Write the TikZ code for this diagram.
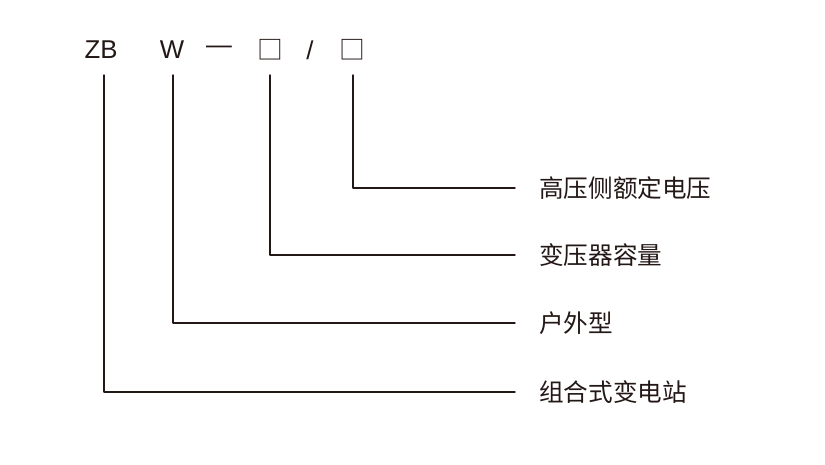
\documentclass[tikz,border=0pt]{standalone}
\usepackage{fontspec}
\setmainfont{Liberation Sans}
\newfontfamily\cjk{Noto Sans CJK SC}
\usetikzlibrary{positioning}
\definecolor{ink}{RGB}{35,24,21}
\begin{document}
\begin{tikzpicture}[x=0.03cm,y=-0.03cm,line cap=round,line join=round]
  \tikzset{code/.style={text=ink,font=\fontsize{22}{26}\selectfont,inner sep=0pt},
           lead/.style={draw=ink,line width=1.2pt},
           desc/.style={text=ink,font=\cjk\fontsize{21}{25}\selectfont,anchor=west,inner sep=0pt}}
  \useasboundingbox (0,0) rectangle (825,464);
  % top row of the model code
  \node[code] (zb) at (101,50) {ZB};
  \node[code] (w) at (172,50) {W};
  \node[code] (dash) at (219,50) {—};
  \node[code] (boxa) at (270,50) {\cjk □};
  \node[code] (slash) at (310,50) {/};
  \node[code] (boxb) at (352,50) {\cjk □};
  % descriptions
  \node[desc] (hv) at (539,188) {高压侧额定电压};
  \node[desc] (cap) at (539,255) {变压器容量};
  \node[desc] (out) at (539,323) {户外型};
  \node[desc] (sub) at (539,392) {组合式变电站};
  % leader lines
  \draw[lead] (104,75) |- (515,392);
  \draw[lead] (173,75) |- (515,323);
  \draw[lead] (270,75) |- (515,255);
  \draw[lead] (353,75) |- (515,188);
\end{tikzpicture}
\end{document}
